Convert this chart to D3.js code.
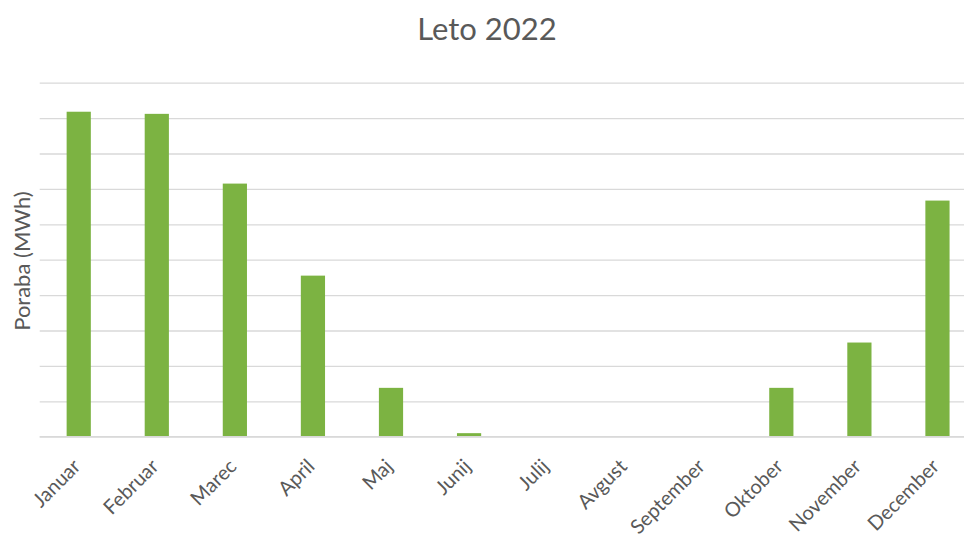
<!DOCTYPE html>
<html>
<head>
<meta charset="utf-8">
<script src="https://cdn.jsdelivr.net/npm/d3@7"></script>
<style>
  html, body { margin: 0; padding: 0; background: #fff; }
  svg { display: block; }
  text { font-family: Lato, "Open Sans", sans-serif; fill: #595959; }
</style>
</head>
<body>
<svg id="chart" width="964" height="543"></svg>
<script>
// Monthly consumption, 2022
const months = ["Januar", "Februar", "Marec", "April", "Maj", "Junij",
                "Julij", "Avgust", "September", "Oktober", "November", "December"];
const consumption = [91.8, 91.2, 71.5, 45.5, 13.8, 1.0, 0, 0, 0, 13.8, 26.6, 66.7];
const gridTicks = [0, 10, 20, 30, 40, 50, 60, 70, 80, 90, 100];
const chartTitle = "Leto 2022";
const yTitle = "Poraba (MWh)";

const svg = d3.select("#chart");
const W = 964, H = 543;
const plot = { left: 39.7, right: 976.5, top: 82.7, bottom: 436.7 };

const x = d3.scaleBand()
  .domain(months)
  .range([plot.left, plot.right])
  .paddingInner(0.69)
  .paddingOuter(0.345);

const y = d3.scaleLinear()
  .domain([0, 100])
  .range([plot.bottom, plot.top]);

// horizontal gridlines
const grid = d3.axisLeft(y)
  .tickValues(gridTicks)
  .tickSize(-(plot.right - plot.left))
  .tickFormat("");
svg.append("g")
  .attr("transform", `translate(${plot.left},0)`)
  .call(grid)
  .call(g => g.select(".domain").remove())
  .call(g => g.selectAll(".tick line").attr("stroke", "#d9d9d9").attr("stroke-width", 1.3));

// bars
svg.append("g").selectAll("rect")
  .data(months)
  .join("rect")
  .attr("x", d => x(d))
  .attr("width", x.bandwidth())
  .attr("y", (d, i) => y(consumption[i]))
  .attr("height", (d, i) => y(0) - y(consumption[i]))
  .attr("fill", "#7cb342");

// baseline
svg.append("line")
  .attr("x1", plot.left).attr("x2", W)
  .attr("y1", y(0)).attr("y2", y(0))
  .attr("stroke", "#d9d9d9").attr("stroke-width", 1.3);

// category labels, rotated
const xAxis = d3.axisBottom(x).tickSize(0).tickPadding(0);
svg.append("g")
  .attr("transform", `translate(0,${plot.bottom})`)
  .call(xAxis)
  .call(g => g.select(".domain").remove())
  .call(g => g.selectAll(".tick text")
    .attr("font-size", 20)
    .attr("fill", "#595959")
    .attr("font-family", "Lato, 'Open Sans', sans-serif")
    .attr("text-anchor", "end")
    .attr("dy", null)
    .attr("y", 0)
    .attr("transform", "translate(3,31) rotate(-45)"));

// chart title
svg.append("text")
  .attr("x", 487)
  .attr("y", 40)
  .attr("text-anchor", "middle")
  .attr("font-size", 31)
  .text(chartTitle);

// y-axis title
svg.append("text")
  .attr("transform", "translate(30,261) rotate(-90)")
  .attr("text-anchor", "middle")
  .attr("font-size", 22)
  .text(yTitle);
</script>
</body>
</html>
